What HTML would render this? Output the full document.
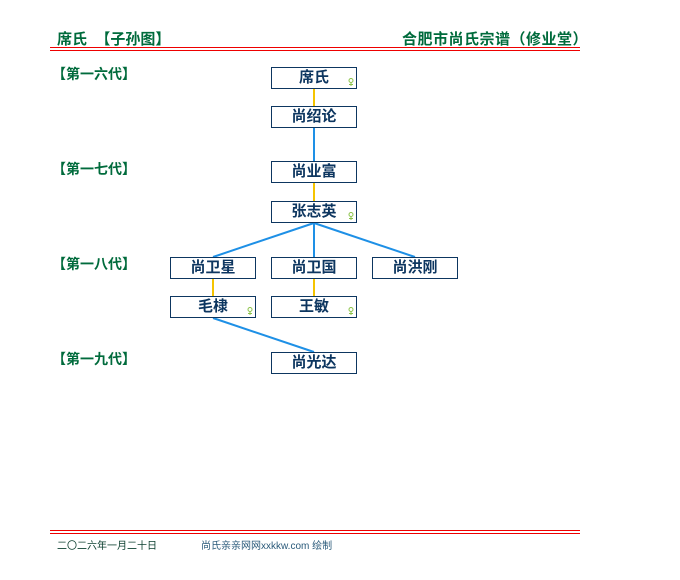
<!DOCTYPE html>
<html><head><meta charset="utf-8"><style>
body{margin:0;width:680px;height:580px;background:#fff;position:relative;font-family:"Liberation Sans","Noto Sans CJK SC",sans-serif;overflow:hidden}
.a{position:absolute;white-space:nowrap}
.h{color:#006b3c;font-weight:bold;font-size:15px}
.g{color:#006b3c;font-weight:bold;font-size:14px}
.b{position:absolute;width:84px;height:20px;border:1px solid #0d3660;color:#0d3660;font-weight:bold;font-size:15px;text-align:center;line-height:20px;background:#fff}
.f{position:absolute;right:2px;bottom:2px;width:6px;height:8px}
.r{position:absolute;left:50px;width:530px;height:1px;background:#e00}
</style></head><body>
<div class="a h" style="left:57px;top:28px">席氏 &nbsp;【子孙图】</div>
<div class="a h" style="left:402px;top:28px;letter-spacing:0.5px">合肥市尚氏宗谱（修业堂）</div>
<div class="r" style="top:47px"></div><div class="r" style="top:50px"></div>
<div class="a g" style="left:52px;top:64px">【第一六代】</div>
<div class="a g" style="left:52px;top:159px">【第一七代】</div>
<div class="a g" style="left:52px;top:254px">【第一八代】</div>
<div class="a g" style="left:52px;top:349px">【第一九代】</div>
<svg class="a" style="left:0;top:0" width="680" height="580">
<g stroke-width="2">
<line x1="314" y1="89" x2="314" y2="106" stroke="#f5c400"/>
<line x1="314" y1="128" x2="314" y2="161" stroke="#1e90e6"/>
<line x1="314" y1="183" x2="314" y2="201" stroke="#f5c400"/>
<line x1="314" y1="223" x2="314" y2="257" stroke="#1e90e6"/>
<line x1="314" y1="223" x2="213" y2="257" stroke="#1e90e6"/>
<line x1="314" y1="223" x2="415" y2="257" stroke="#1e90e6"/>
<line x1="213" y1="279" x2="213" y2="296" stroke="#f5c400"/>
<line x1="314" y1="279" x2="314" y2="296" stroke="#f5c400"/>
<line x1="213" y1="318" x2="314" y2="352" stroke="#1e90e6"/>
</g></svg>
<div class="b" style="left:271px;top:67px">席氏<svg class="f" viewBox="0 0 6 8"><circle cx="3" cy="2.5" r="2" fill="none" stroke="#8bc34a"/><path d="M3 4.5V8M1 6.5H5" stroke="#8bc34a"/></svg></div>
<div class="b" style="left:271px;top:106px">尚绍论</div>
<div class="b" style="left:271px;top:161px">尚业富</div>
<div class="b" style="left:271px;top:201px">张志英<svg class="f" viewBox="0 0 6 8"><circle cx="3" cy="2.5" r="2" fill="none" stroke="#8bc34a"/><path d="M3 4.5V8M1 6.5H5" stroke="#8bc34a"/></svg></div>
<div class="b" style="left:170px;top:257px">尚卫星</div>
<div class="b" style="left:271px;top:257px">尚卫国</div>
<div class="b" style="left:372px;top:257px">尚洪刚</div>
<div class="b" style="left:170px;top:296px">毛棣<svg class="f" viewBox="0 0 6 8"><circle cx="3" cy="2.5" r="2" fill="none" stroke="#8bc34a"/><path d="M3 4.5V8M1 6.5H5" stroke="#8bc34a"/></svg></div>
<div class="b" style="left:271px;top:296px">王敏<svg class="f" viewBox="0 0 6 8"><circle cx="3" cy="2.5" r="2" fill="none" stroke="#8bc34a"/><path d="M3 4.5V8M1 6.5H5" stroke="#8bc34a"/></svg></div>
<div class="b" style="left:271px;top:352px">尚光达</div>
<div class="r" style="top:530px"></div><div class="r" style="top:533px"></div>
<div class="a" style="left:57px;top:537px;font-size:10px;color:#0d4030">二〇二六年一月二十日</div>
<div class="a" style="left:201px;top:537px;font-size:10px;color:#2a5a7a">尚氏亲亲网网xxkkw.com 绘制</div>
</body></html>
